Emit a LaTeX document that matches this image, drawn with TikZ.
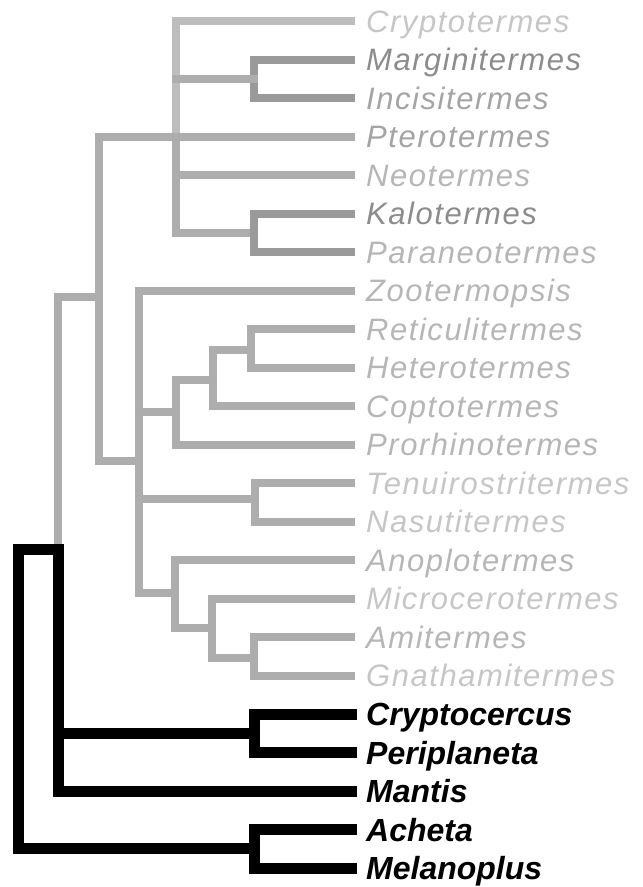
\documentclass[tikz,border=0pt]{standalone}
\usepackage{fontspec}
\setmainfont{Liberation Sans}
\newfontfamily\lblfont[LetterSpace=5]{Liberation Sans}

% branch and label shades
\definecolor{branch}{HTML}{ADADAD}
\definecolor{branchdark}{HTML}{9A9A9A}
\definecolor{branchlight}{HTML}{BDBDBD}
\definecolor{ltA}{HTML}{C6C6C6}
\definecolor{ltB}{HTML}{B6B6B6}
\definecolor{ltC}{HTML}{A4A4A4}
\definecolor{ltD}{HTML}{8C8C8C}

\begin{document}
\begin{tikzpicture}[x=1pt,y=-1pt,
  gry/.style={line width=8pt, draw=branch, line cap=rect, line join=miter},
  grydark/.style={gry, draw=branchdark},
  grylight/.style={gry, draw=branchlight},
  blk/.style={line width=11pt, draw=black, line cap=rect, line join=miter},
  glabel/.style={anchor=base west, inner sep=0pt,
    font=\lblfont\itshape\fontsize{31}{36}\selectfont},
  blabel/.style={anchor=base west, inner sep=0pt,
    font=\bfseries\itshape\fontsize{32}{38}\selectfont},
]
\useasboundingbox (0,0) rectangle (643,887);

% leaf tips
\coordinate (p0)  at (351,21);
\coordinate (p1)  at (351,59.5);
\coordinate (p2)  at (351,98);
\coordinate (p3)  at (351,136.5);
\coordinate (p4)  at (351,175);
\coordinate (p5)  at (351,213.5);
\coordinate (p6)  at (351,252);
\coordinate (p7)  at (351,290.5);
\coordinate (p8)  at (351,329);
\coordinate (p9)  at (351,367.5);
\coordinate (p10) at (351,406);
\coordinate (p11) at (351,444.5);
\coordinate (p12) at (351,483);
\coordinate (p13) at (351,521.5);
\coordinate (p14) at (351,560);
\coordinate (p15) at (351,598.5);
\coordinate (p16) at (351,637);
\coordinate (p17) at (351,675.5);
\coordinate (p18) at (351,714);
\coordinate (p19) at (351,752.5);
\coordinate (p20) at (351,791);
\coordinate (p21) at (351,829.5);
\coordinate (p22) at (351,868);

% internal nodes
\coordinate (kal)  at (176,136.5);
\coordinate (mi)   at (254,79);
\coordinate (kp)   at (254,233);
\coordinate (ter)  at (99,297);
\coordinate (nk)   at (139,461);
\coordinate (r1)   at (176,412);
\coordinate (r2)   at (213,380);
\coordinate (r3)   at (251,350);
\coordinate (tn)   at (255,499);
\coordinate (a1)   at (175,593);
\coordinate (a2)   at (212,628);
\coordinate (a3)   at (254,658);
\coordinate (dict) at (58,549);
\coordinate (root) at (18,549);
\coordinate (cp)   at (254,733);
\coordinate (ac)   at (254,848);

% termite branches
\draw[grylight] (p0) -| (kal);
\draw[gry] (kal) |- (kp);
\draw[grydark] (p1) -| (mi) |- (p2);
\draw[grydark] (p5) -| (kp) |- (p6);
\draw[gry] (kal |- mi) -- (mi);
\draw[gry] (kal) -- (p3);
\draw[gry] (kal |- p4) -- (p4);
\draw[gry] (kal) -| (ter) |- (nk);
\draw[gry] (ter) -| (dict);
\draw[gry] (p7) -| (nk) |- (a1);
\draw[gry] (nk |- r1) -- (r1);
\draw[gry] (nk |- tn) -- (tn);
\draw[gry] (r2) -| (r1) |- (p11);
\draw[gry] (r3) -| (r2) |- (p10);
\draw[gry] (p8) -| (r3) |- (p9);
\draw[gry] (p12) -| (tn) |- (p13);
\draw[gry] (p14) -| (a1) |- (a2);
\draw[gry] (p15) -| (a2) |- (a3);
\draw[gry] (p16) -| (a3) |- (p17);

% outgroup branches
\draw[blk] (ac) -| (root) -- (dict) |- (p20);
\draw[blk] (dict |- cp) -- (cp);
\draw[blk] (p18) -| (cp) |- (p19);
\draw[blk] (p21) -| (ac) |- (p22);

% labels
\node[glabel, text=ltA] (n0)  at (366,32)    {Cryptotermes};
\node[glabel, text=ltD] (n1)  at (366,70.5)  {Marginitermes};
\node[glabel, text=ltC] (n2)  at (366,109)   {Incisitermes};
\node[glabel, text=ltC] (n3)  at (366,147.5) {Pterotermes};
\node[glabel, text=ltB] (n4)  at (366,186)   {Neotermes};
\node[glabel, text=ltD] (n5)  at (366,224.5) {Kalotermes};
\node[glabel, text=ltB] (n6)  at (366,263)   {Paraneotermes};
\node[glabel, text=ltB] (n7)  at (366,301.5) {Zootermopsis};
\node[glabel, text=ltB] (n8)  at (366,340)   {Reticulitermes};
\node[glabel, text=ltB] (n9)  at (366,378.5) {Heterotermes};
\node[glabel, text=ltB] (n10) at (366,417)   {Coptotermes};
\node[glabel, text=ltB] (n11) at (366,455.5) {Prorhinotermes};
\node[glabel, text=ltA] (n12) at (366,494)   {Tenuirostritermes};
\node[glabel, text=ltA] (n13) at (366,532.5) {Nasutitermes};
\node[glabel, text=ltB] (n14) at (366,571)   {Anoplotermes};
\node[glabel, text=ltA] (n15) at (366,609.5) {Microcerotermes};
\node[glabel, text=ltB] (n16) at (366,648)   {Amitermes};
\node[glabel, text=ltA] (n17) at (366,686.5) {Gnathamitermes};
\node[blabel] (n18) at (366,725.5) {Cryptocercus};
\node[blabel] (n19) at (366,764)   {Periplaneta};
\node[blabel] (n20) at (366,802.5) {Mantis};
\node[blabel] (n21) at (366,841)   {Acheta};
\node[blabel] (n22) at (366,879.5) {Melanoplus};
\end{tikzpicture}
\end{document}
